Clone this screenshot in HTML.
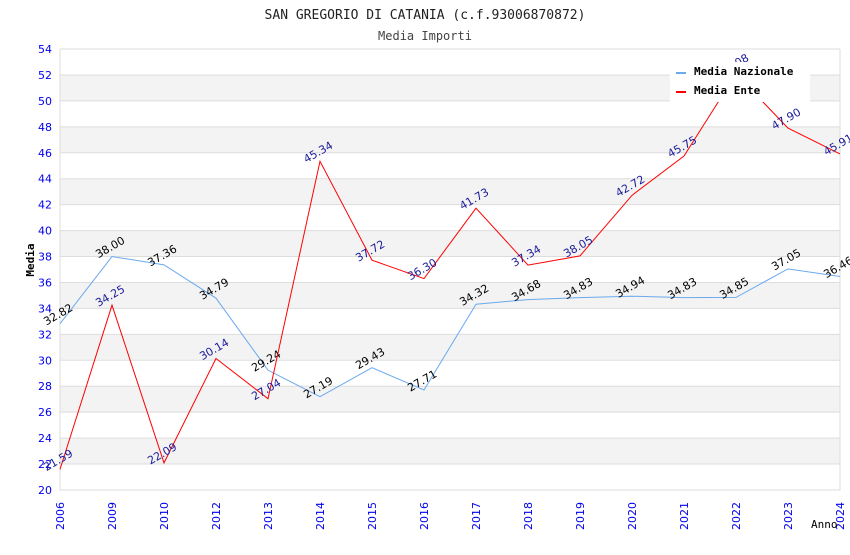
<!DOCTYPE html>
<html><head><meta charset="utf-8"><style>
body{margin:0;background:#fff;}
svg text{font-family:"DejaVu Sans Mono","Liberation Mono",monospace;}
svg text.sans{font-family:"DejaVu Sans","Liberation Sans",sans-serif;}
</style></head><body>
<svg id="chart" width="850" height="550" xmlns="http://www.w3.org/2000/svg">
<text x="425" y="19" text-anchor="middle" font-size="13" fill="#222">SAN GREGORIO DI CATANIA (c.f.93006870872)</text>
<text x="425" y="40" text-anchor="middle" font-size="12" fill="#444">Media Importi</text>
<g id="grid"></g><g id="axes"></g><g id="series"></g>
<g>
<rect x="670" y="62" width="140" height="40" fill="#fff"/>
<g><rect x="676" y="72" width="10" height="2" fill="#6aaaee"/><text x="694" y="75" font-size="11" font-weight="bold" fill="#000">Media Nazionale</text></g>
<g><rect x="676" y="91" width="10" height="2" fill="#ff0000"/><text x="694" y="94" font-size="11" font-weight="bold" fill="#000">Media Ente</text></g>
</g>
<text x="0" y="0" transform="translate(34,260) rotate(-90)" text-anchor="middle" font-size="11" font-weight="bold" fill="#000">Media</text>
<text x="811" y="528" font-size="11" fill="#000">Anno</text>
</svg>
<script>
const categories=["2006","2009","2010","2012","2013","2014","2015","2016","2017","2018","2019","2020","2021","2022","2023","2024"];
const nazionale=[32.82,38.00,37.36,34.79,29.24,27.19,29.43,27.71,34.32,34.68,34.83,34.94,34.83,34.85,37.05,36.46];
const ente=[21.59,34.25,22.09,30.14,27.04,45.34,37.72,36.30,41.73,37.34,38.05,42.72,45.75,52.08,47.90,45.91];
const yTicks=[20,22,24,26,28,30,32,34,36,38,40,42,44,46,48,50,52,54];
const NS="http://www.w3.org/2000/svg";
const X0=60,X1=840,Y0=490,Y1=49,YMIN=20,YMAX=54;
function xs(i){return X0+i*(X1-X0)/(categories.length-1);}
function ys(v){return Y0-(v-YMIN)*(Y0-Y1)/(YMAX-YMIN);}
function mk(tag,attrs,parent){const e=document.createElementNS(NS,tag);for(const k in attrs)e.setAttribute(k,attrs[k]);parent.appendChild(e);return e;}
const grid=document.getElementById('grid'),axes=document.getElementById('axes'),ser=document.getElementById('series');
for(let i=0;i<yTicks.length-1;i++){
  if(i%2===1){const r=mk('rect',{x:X0,y:ys(yTicks[i+1]),width:X1-X0,height:ys(yTicks[i])-ys(yTicks[i+1]),fill:'#f3f3f3'},grid);
  
  }
}
yTicks.forEach(t=>{
  const l=mk('line',{x1:X0,x2:X1,y1:ys(t),y2:ys(t),stroke:'#ddd','stroke-width':1},grid);
  
  
  const tx=mk('text',{class:'sans',x:X0-8,y:ys(t)+4,'text-anchor':'end','font-size':11,fill:'#0000ee'},axes);
  tx.textContent=t;
  
  
});
const b=mk('path',{d:`M${X0} ${Y1}V${Y0}H${X1}V${Y1}`,fill:'none',stroke:'#ddd'},axes);


categories.forEach((c,i)=>{
  const t=mk('text',{class:'sans',x:0,y:0,transform:`translate(${xs(i)+4},${Y0+40}) rotate(-90)`,'font-size':11,fill:'#0000ee'},axes);
  t.textContent=c;
  
  
});
function series(vals,color,lblColor,name){
  const p=mk('polyline',{points:vals.map((v,i)=>xs(i)+','+ys(v)).join(' '),fill:'none',stroke:color,'stroke-width':1},ser);
  
  
  vals.forEach((v,i)=>{
    const t=mk('text',{class:'sans',x:0,y:0,transform:`translate(${xs(i)},${ys(v)-6}) rotate(-30)`,'text-anchor':'middle','font-size':11,fill:lblColor},ser);
    t.textContent=v.toFixed(2);
    
    
  });
}
series(nazionale,'#6aaaee','#000','nazionale');
series(ente,'#ff0000','#1a1a99','ente');
</script>
</body></html>
